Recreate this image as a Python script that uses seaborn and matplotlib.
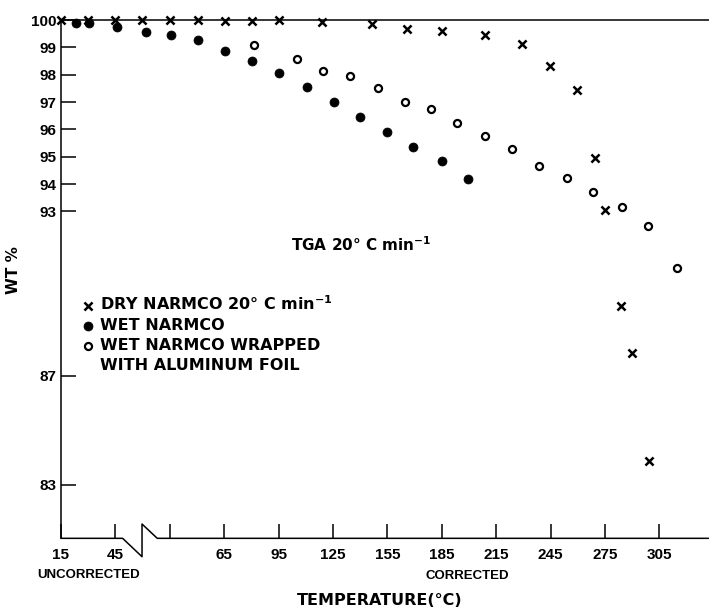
import numpy as np
import seaborn as sns
import matplotlib.pyplot as plt
from matplotlib.lines import Line2D

##############################################################################
# Data (x is the axis temperature scale)
##############################################################################
dryT = [-25, -10.3, 4.8, 19.8, 35, 50.6, 65.6, 80.5, 95.4, 118.8, 146.3,
        165.6, 185, 208.8, 229.1, 244.7, 259.4, 269.5, 275, 283.8, 289.7,
        299.5]
dryW = [100, 100, 100, 100, 100, 100, 99.95, 99.97, 100, 99.93, 99.84,
        99.68, 99.59, 99.46, 99.13, 98.33, 97.43, 94.94, 93.05, 89.55, 87.84,
        83.88]
wetT = [-16.9, -9.6, 6.0, 21.7, 35.5, 50.7, 65.6, 80.5, 95.1, 110.5, 125.6,
        139.9, 154.6, 169.3, 185.3, 199.3]
wetW = [99.90, 99.90, 99.76, 99.57, 99.45, 99.28, 98.88, 98.51, 98.06, 97.54,
        97.00, 96.46, 95.90, 95.36, 94.84, 94.18]
foilT = [81.4, 105.0, 119.7, 134.4, 150.0, 164.7, 178.9, 193.6, 208.8, 223.9,
         238.8, 253.9, 268.6, 284.2, 298.9, 314.9]
foilW = [99.09, 98.56, 98.15, 97.96, 97.50, 97.01, 96.73, 96.24, 95.76, 95.29,
         94.67, 94.23, 93.70, 93.17, 92.47, 90.94]
xTicks = [-25, 5, 35, 65, 95, 125, 155, 185, 215, 245, 275, 305]
xLabels = ['15', '45', '', '65', '95', '125', '155', '185', '215', '245',
           '275', '305']
yTicks = [83, 87, 93, 94, 95, 96, 97, 98, 99, 100]
labels = [
    'DRY NARMCO 20° C min$^{-1}$', 'WET NARMCO',
    'WET NARMCO WRAPPED', 'WITH ALUMINUM FOIL'
]
##############################################################################
# Style
##############################################################################
sns.set_theme(style='white')
plt.rcParams['font.family'] = ['DejaVu Sans']
plt.rcParams['mathtext.default'] = 'regular'
plt.rcParams['text.color'] = 'black'
plt.rcParams['axes.labelcolor'] = 'black'
TICKFONT = {'family': 'Liberation Sans', 'weight': 'bold', 'size': 11}
##############################################################################
# Plotting
##############################################################################
fig = plt.figure(figsize=(7.09, 6.10), dpi=100)
ax = fig.add_axes([0.086, 0.1175, 0.914, 0.8497])
sns.scatterplot(
    x=dryT, y=dryW, marker='x', color='black', s=34, linewidth=1.8,
    clip_on=False, zorder=5, ax=ax, label=labels[0]
)
sns.scatterplot(
    x=wetT, y=wetW, marker='o', color='black', s=42, edgecolor='black',
    clip_on=False, zorder=5, ax=ax, label=labels[1]
)
sns.scatterplot(
    x=foilT, y=foilW, marker='o', facecolor='white', edgecolor='black',
    s=26, linewidth=1.6, clip_on=False, zorder=5, ax=ax, label=labels[2]
)
ax.set_xlim(-25, 332.4)
ax.set_ylim(81.05, 100)
ax.set_xticks(xTicks)
ax.set_xticklabels(xLabels, fontdict=TICKFONT)
ax.set_yticks(yTicks)
ax.set_yticklabels([str(v) for v in yTicks], fontdict=TICKFONT)
ax.tick_params(axis='x', direction='in', length=10, width=1.1, pad=7,
               bottom=True, top=False, colors='black')
ax.tick_params(axis='y', direction='in', length=11, width=1.1, pad=3,
               left=True, right=False, colors='black')
for side in ['left', 'top']:
    ax.spines[side].set_linewidth(1.1)
    ax.spines[side].set_color('black')
ax.spines['right'].set_visible(False)
ax.spines['bottom'].set_visible(False)
# broken x axis (zigzag between 45 and the next tick)
xf = ax.get_xaxis_transform()
ax.plot([-25, 9.0, 19.7, 19.7, 28.1, 332.4],
        [0, 0, -0.0355, 0.0276, 0, 0],
        color='black', lw=1.1, transform=xf, clip_on=False)
##############################################################################
# Text
##############################################################################
ax.set_xlabel('TEMPERATURE(°C)', fontsize=11.5, weight='bold')
ax.xaxis.set_label_coords(0.4915, -0.106)
ax.set_ylabel('WT %', fontsize=11, weight='bold')
ax.yaxis.set_label_coords(-0.062, 0.518)
fig.text(0.1255, 0.0574, 'UNCORRECTED', ha='center', va='center',
         fontsize=9.5, weight='bold', family='Liberation Sans')
fig.text(0.6587, 0.0557, 'CORRECTED', ha='center', va='center',
         fontsize=9.5, weight='bold', family='Liberation Sans')
ax.text(140.5, 91.77, 'TGA 20° C min$^{-1}$', ha='center',
        va='center', fontsize=11, weight='bold')
handles, _ = ax.get_legend_handles_labels()
handles.append(Line2D([], [], linestyle='none'))
ax.legend(
    handles, labels, loc='upper left', bbox_to_anchor=(0.03, 0.47),
    frameon=False, handletextpad=0.25, handlelength=1.0, labelspacing=0.3,
    borderpad=0, borderaxespad=0,
    prop={'weight': 'bold', 'size': 11.5}
)
plt.savefig('out.png', dpi=100)
plt.close()
